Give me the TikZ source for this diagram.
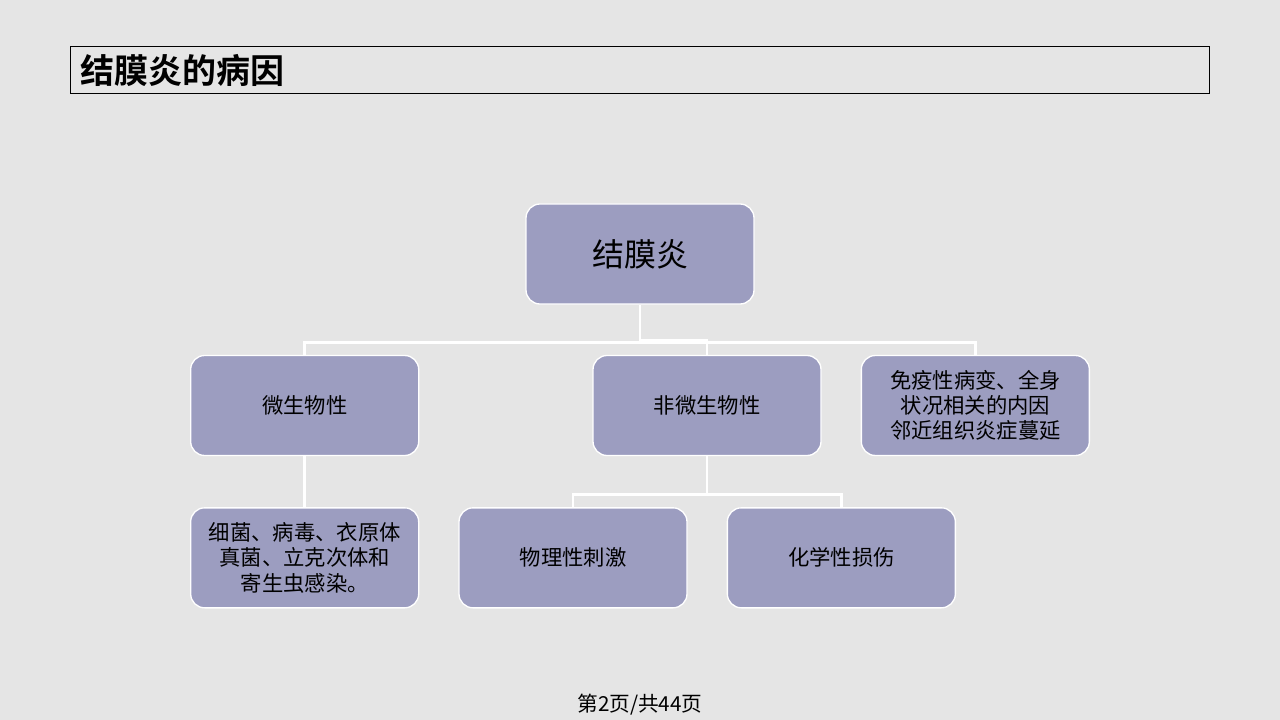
\documentclass[tikz,border=0pt]{standalone}
\usepackage{fontspec}
\setmainfont{Noto Sans CJK SC}[BoldFont={Noto Sans CJK SC Bold}]
\usepackage{tikz}
\usetikzlibrary{positioning}

\definecolor{slidebg}{HTML}{E5E5E5}
\definecolor{boxfill}{HTML}{9C9DC0}

\tikzset{
	cause/.style={draw=white, line width=1pt, fill=boxfill, rounded corners=10.5pt,
		minimum width=171pt, minimum height=75pt, align=center, font=\fontsize{16}{19}\selectfont},
	link/.style={draw=white, line width=2.2pt}
}

\begin{document}
\begin{tikzpicture}[x=0.75pt, y=-0.75pt]

\fill [slidebg] (0,0) rectangle (1280,720);
\useasboundingbox (0,0) rectangle (1280,720);

% title
\node [draw=black, line width=0.8pt, anchor=north west, minimum width=854.25pt,
	minimum height=35.25pt, inner xsep=7.5pt, text width=839.25pt, align=left,
	font=\fontsize{25.5}{28}\selectfont\bfseries] (title) at (70,46) {结膜炎的病因};

% top level
\node [cause, font=\fontsize{24}{28}\selectfont] (jmy) at (640,254) {结膜炎};

% next level
\node [cause] (fwsw) at (707,405.5) {非微生物性};
\node [cause, left=129.75pt of fwsw] (wsw) {微生物性};
\node [cause, right=29.25pt of fwsw] (myx) {免疫性病变、全身\\状况相关的内因\\邻近组织炎症蔓延};

\path [link] (jmy.south) -- ++(0,36) -| (fwsw.north);
\path [link] (wsw.north) -- ++(0,-12) -| (myx.north);

% next level
\node [cause, below=38.25pt of wsw] (xj) {细菌、病毒、衣原体\\真菌、立克次体和\\寄生虫感染。};
\node [cause, right=29.25pt of xj] (wlx) {物理性刺激};
\node [cause, right=29.25pt of wlx] (hxx) {化学性损伤};

\path [link] (wsw.south) -- (xj.north);
\path [link] (fwsw.south) -- ++(0,38) coordinate (fork) -| (wlx.north);
\path [link] (fork) -| (hxx.north);

% footer
\node [font=\fontsize{15.5}{18}\selectfont] (page) at (640,705) {第2页/共44页};

\end{tikzpicture}
\end{document}
